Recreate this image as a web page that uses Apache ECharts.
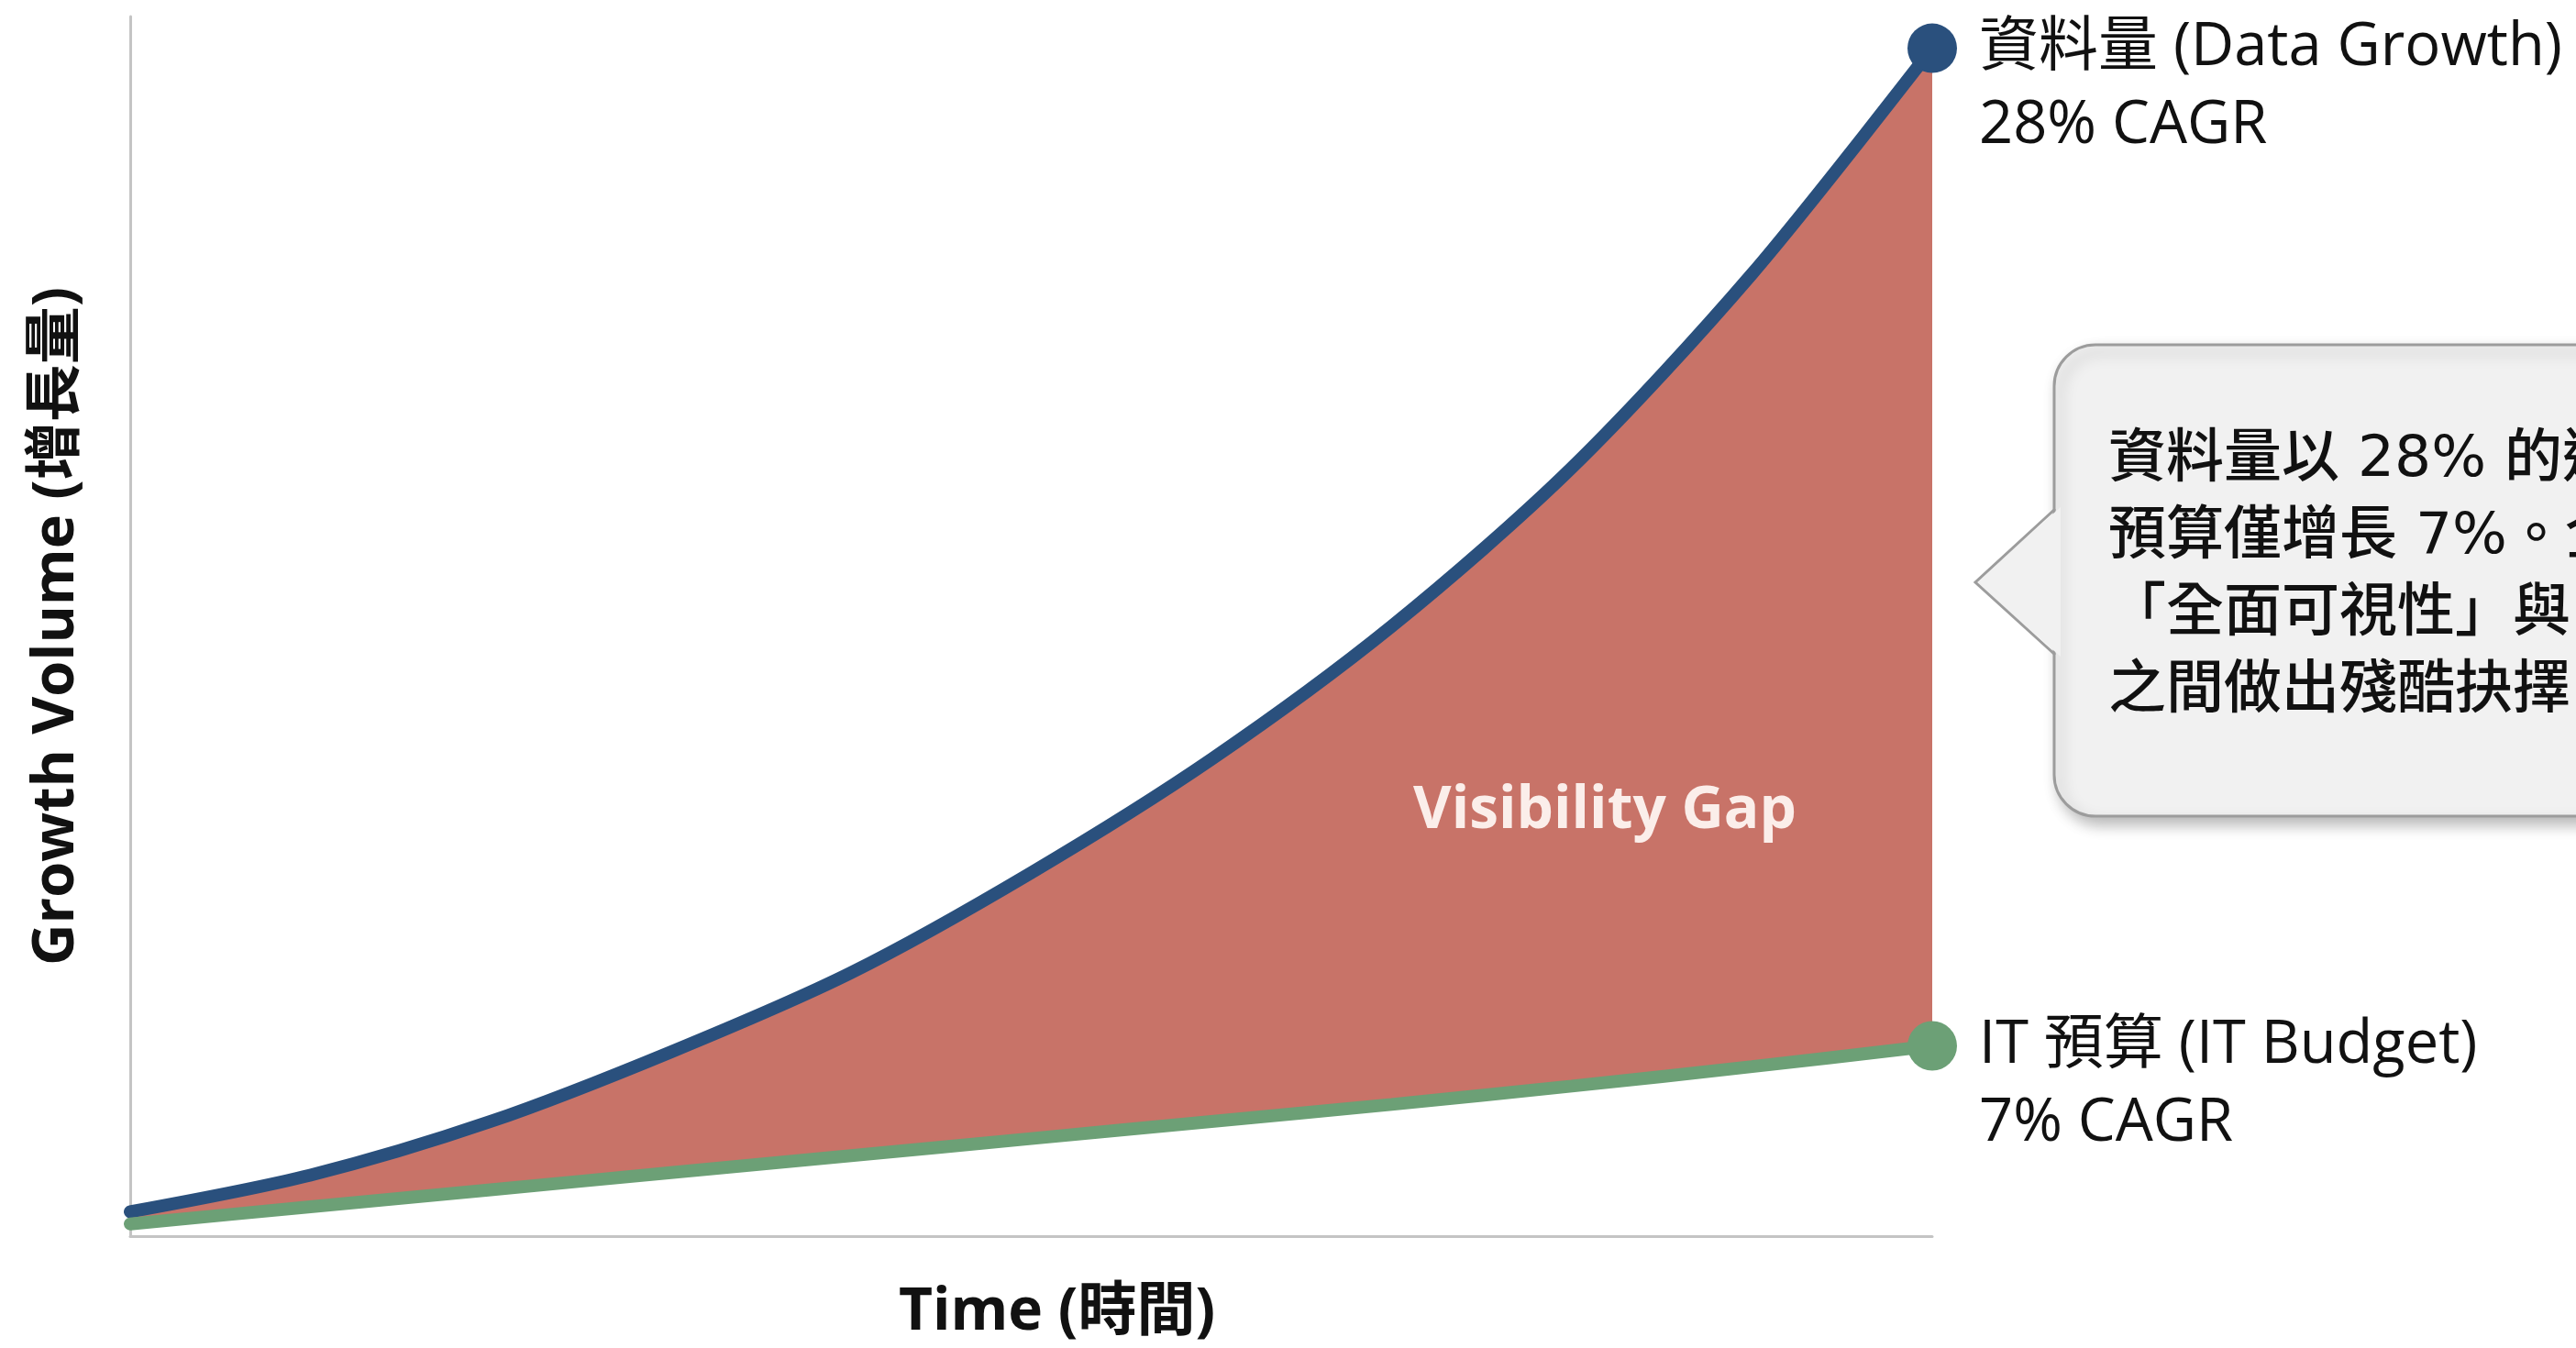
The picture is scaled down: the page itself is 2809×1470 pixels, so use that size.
<!DOCTYPE html>
<html>
<head>
<meta charset="utf-8">
<script src="https://cdn.jsdelivr.net/npm/echarts@6/dist/echarts.min.js"></script>
<style>
html,body{margin:0;padding:0;background:#ffffff;}
#chart{width:2809px;height:1470px;}
</style>
</head>
<body>
<div id="chart"></div>
<script>
// ---- data ----
const years = ['0', '1', '2', '3', '4', '5', '6', '7', '8', '9', '10'];
const dataGrowth = [2.0, 5.0, 9.4, 15.1, 21.6, 29.8, 39.1, 50.0, 63.0, 78.9, 97.4];
const itBudget   = [1.0, 2.4, 3.8, 5.2, 6.6, 8.0, 9.4, 10.8, 12.3, 13.9, 15.6];

const dataLabelLines   = ['資料量 (Data Growth)', '28% CAGR'];
const budgetLabelLines = ['IT 預算 (IT Budget)', '7% CAGR'];
const gapText   = 'Visibility Gap';
const xTitle    = 'Time (時間)';
const yTitle    = 'Growth Volume (增長量)';
const calloutLines = [
  '資料量以 28% 的速度增長，而 IT',
  '預算僅增長 7%。企業被迫在',
  '「全面可視性」與「成本控制」',
  '之間做出殘酷抉擇。'
];

// ---- styles ----
const FONT = "'Open Sans','Noto Sans CJK TC',sans-serif";
const CALLOUT_FONT = "'DejaVu Sans','Noto Sans CJK TC',sans-serif";
const BLUE = '#2A507D';
const GREEN = '#6CA076';
const RED = '#C87368';
const AXIS = '#c4c4c4';
const TEXT = '#111111';

const gapValues = years.map((x, i) => +(dataGrowth[i] - itBudget[i]).toFixed(2));
const last = years.length - 1;
const SMOOTH = 0.3;

const chart = echarts.init(document.getElementById('chart'), null, {renderer: 'canvas'});

chart.setOption({
  backgroundColor: '#ffffff',
  animation: false,
  grid: {left: 142, right: 702, top: 18, bottom: 122, containLabel: false, outerBoundsMode: 'none'},
  xAxis: {
    type: 'category', data: years, boundaryGap: false,
    name: xTitle, nameLocation: 'middle', nameGap: 84,
    nameTextStyle: {fontFamily: FONT, fontSize: 64, fontWeight: 'bold', color: TEXT,
                    verticalAlign: 'middle', padding: [0, 0, 0, 56]},
    axisLine: {show: true, onZero: false, lineStyle: {color: AXIS, width: 3}},
    axisTick: {show: false}, axisLabel: {show: false}, splitLine: {show: false}
  },
  yAxis: {
    type: 'value', min: 0, max: 100,
    name: yTitle, nameLocation: 'middle', nameGap: 80, nameRotate: 90,
    nameTextStyle: {fontFamily: FONT, fontSize: 63, fontWeight: 'bold', color: TEXT, verticalAlign: 'middle'},
    axisLine: {show: true, onZero: false, lineStyle: {color: AXIS, width: 3}},
    axisTick: {show: false}, axisLabel: {show: false}, splitLine: {show: false}
  },
  series: [
    { // invisible base of the gap band
      type: 'line', stack: 'gap', data: itBudget, smooth: SMOOTH,
      symbol: 'none', lineStyle: {width: 0, opacity: 0}, silent: true, z: 1
    },
    { // red gap band between budget and data growth
      type: 'line', stack: 'gap', data: gapValues, smooth: SMOOTH,
      symbol: 'none', lineStyle: {width: 0, opacity: 0},
      areaStyle: {color: RED, opacity: 1}, silent: true, z: 1
    },
    {
      name: 'Data Growth', type: 'line', data: dataGrowth, smooth: SMOOTH,
      symbol: 'none', lineStyle: {color: BLUE, width: 14, cap: 'round'}, z: 3
    },
    {
      name: 'IT Budget', type: 'line', data: itBudget, smooth: SMOOTH,
      symbol: 'none', lineStyle: {color: GREEN, width: 14, cap: 'round'}, z: 4
    },
    {
      type: 'scatter', clip: false, z: 6, symbolSize: 54,
      itemStyle: {opacity: 1},
      data: [
        {value: [years[last], dataGrowth[last]], itemStyle: {color: BLUE, opacity: 1},
         label: {formatter: dataLabelLines.join('\n')}},
        {value: [years[last], itBudget[last]], itemStyle: {color: GREEN, opacity: 1},
         label: {formatter: budgetLabelLines.join('\n')}}
      ],
      label: {
        show: true, position: 'right', distance: 24, align: 'left', verticalAlign: 'top',
        offset: [0, -43], fontFamily: FONT, fontSize: 65, lineHeight: 85, color: TEXT, opacity: 1
      }
    }
  ],
  graphic: [
    {
      type: 'text', z: 10,
      style: {text: gapText, x: 1750, y: 885, align: 'center', verticalAlign: 'middle',
              fontFamily: FONT, fontSize: 64, fontWeight: 'bold', fill: '#fbeeea'}
    },
    {
      type: 'rect', z: 20,
      shape: {x: 2240, y: 376, width: 760, height: 514, r: 45},
      style: {fill: '#f1f1f1', stroke: '#9c9c9c', lineWidth: 3,
              shadowBlur: 16, shadowOffsetX: 6, shadowOffsetY: 8, shadowColor: 'rgba(0,0,0,0.28)'}
    },
    {
      type: 'polygon', z: 21,
      shape: {points: [[2247, 553], [2154, 635], [2247, 716]]},
      style: {fill: '#f1f1f1'}
    },
    {
      type: 'polyline', z: 22,
      shape: {points: [[2241, 555], [2154, 635], [2241, 714]]},
      style: {stroke: '#9c9c9c', lineWidth: 3, fill: null}
    },
    {
      type: 'text', z: 23,
      style: {text: calloutLines.join('\n'), x: 2299, y: 461, align: 'left', verticalAlign: 'top',
              fontFamily: CALLOUT_FONT, fontSize: 63, fontWeight: 500, lineHeight: 84, fill: TEXT}
    }
  ]
});
</script>
</body>
</html>
